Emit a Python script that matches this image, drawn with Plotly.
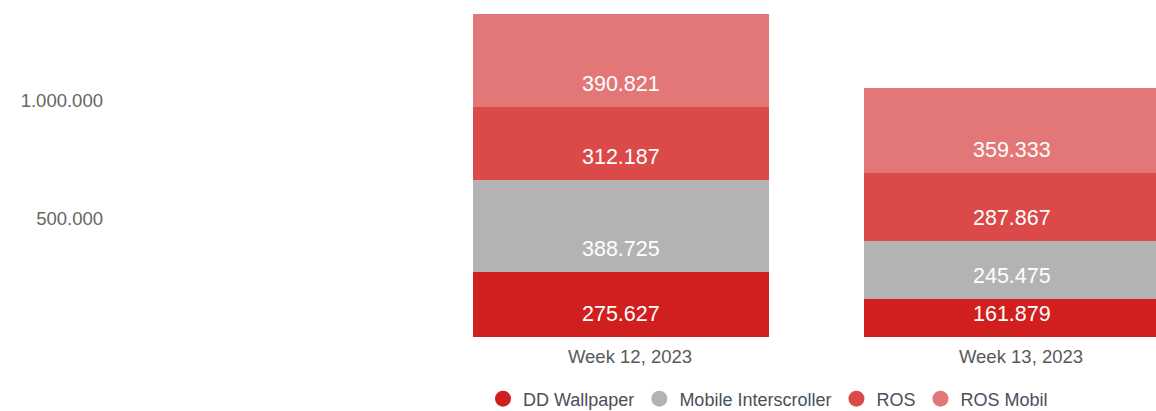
import plotly.graph_objects as go

categories = ["Week 12, 2023", "Week 13, 2023"]
series_names = ["DD Wallpaper", "Mobile Interscroller", "ROS", "ROS Mobil"]
dd_wallpaper = [275627, 161879]
mobile_interscroller = [388725, 245475]
ros = [312187, 287867]
ros_mobil = [390821, 359333]
ytick_vals = [500000, 1000000]
ytick_text = ["500.000", "1.000.000"]

colors = ["#d11e1e", "#b3b3b3", "#db4949", "#e37777"]
series = [dd_wallpaper, mobile_interscroller, ros, ros_mobil]

def fmt(v):
    return f"{v:,}".replace(",", ".")

W, H = 1156, 411
plot_left, plot_right = 110, 1156
plot_top, plot_bottom = 4, 337
px_per_unit = 118 / 500000.0
ymax = (plot_bottom - plot_top) / px_per_unit
cat_px = [621, 1012]
spacing = cat_px[1] - cat_px[0]
x0 = 0 - (cat_px[0] - plot_left) / spacing
x1 = 1 + (plot_right - cat_px[1]) / spacing

fig = go.Figure()
annotations = []
bases = [0] * len(categories)
for name, vals, col in zip(series_names, series, colors):
    fig.add_trace(go.Bar(
        x=categories, y=vals, name=name, marker_color=col,
        marker_line_width=0, showlegend=False, hoverinfo="skip",
    ))
    for i, (c, v) in enumerate(zip(categories, vals)):
        annotations.append(dict(
            x=c, y=bases[i], xref="x", yref="y", text=fmt(v),
            showarrow=False, yanchor="middle", yshift=23,
            font=dict(family="Liberation Sans, Arial", size=21.5, color="white"),
        ))
        bases[i] += v
    fig.add_trace(go.Scatter(
        x=[None], y=[None], mode="markers", name=name,
        marker=dict(symbol="circle", size=19, color=col),
        hoverinfo="skip",
    ))

fig.update_layout(
    width=W, height=H,
    barmode="stack", bargap=1 - 296 / spacing,
    plot_bgcolor="white", paper_bgcolor="white",
    margin=dict(l=plot_left, r=W - plot_right, t=plot_top, b=H - plot_bottom, pad=0, autoexpand=False),
    font=dict(family="Liberation Sans, Arial", size=18, color="#555555"),
    xaxis=dict(range=[x0, x1], showgrid=False, zeroline=False, showline=False, automargin=False,
               ticks="", tickfont=dict(size=18.5, color="#595959"),
               ticklabelstandoff=6, ticklabelshift=9),
    yaxis=dict(range=[0, ymax], showgrid=False, zeroline=False, showline=False, automargin=False,
               tickvals=ytick_vals, ticktext=ytick_text, ticks="",
               tickfont=dict(size=18.5, color="#666666"), ticklabelstandoff=6),
    legend=dict(orientation="h", xref="paper", x=(768 - plot_left) / (plot_right - plot_left),
                xanchor="center", y=-(399 - plot_bottom) / (plot_bottom - plot_top), yanchor="middle",
                font=dict(size=18, color="#4a4f5a"), itemwidth=30, traceorder="normal",
                bgcolor="rgba(0,0,0,0)", tracegroupgap=0),
    annotations=annotations,
    showlegend=True,
)

fig.write_html("out.html", config={"displayModeBar": False},
               post_script="document.body.style.margin='0';document.body.style.overflow='hidden';")
